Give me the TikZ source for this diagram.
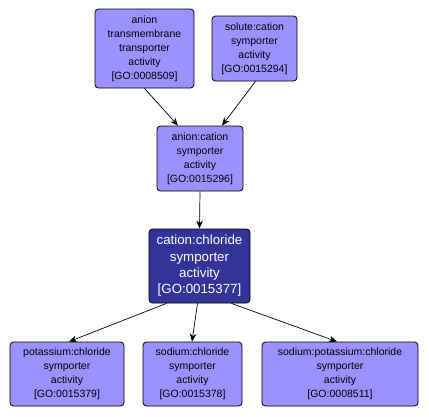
\documentclass[tikz,border=0pt]{standalone}
\usepackage{fontspec}
\setmainfont{Liberation Sans}
\usetikzlibrary{arrows.meta,calc}
\definecolor{lightgo}{RGB}{155,145,255}
\definecolor{darkgo}{RGB}{51,51,153}
\tikzset{
  gobox/.style={draw=black, line width=0.8pt, rounded corners=3.5pt, fill=lightgo, align=center, inner sep=0pt, font=\fontsize{10.5}{14}\selectfont, text=black},
  gomain/.style={gobox, fill=darkgo, text=white, font=\fontsize{13.3}{16.3}\selectfont},
  goarrow/.style={draw=black, line width=0.7pt, -{Stealth[length=8pt,width=6.5pt]}}
}
\begin{document}
\begin{tikzpicture}[x=1pt,y=-1pt]
\useasboundingbox (0,0) rectangle (429,416);
\node[gobox, minimum width=99pt, minimum height=79pt] (A) at (144.5,48.5) {anion\\transmembrane\\transporter\\activity\\{[GO:0008509]}};
\node[gobox, minimum width=85pt, minimum height=65pt] (S) at (254.5,48.5) {solute:cation\\symporter\\activity\\{[GO:0015294]}};
\node[gobox, minimum width=86pt, minimum height=65pt] (AC) at (200,158.5) {anion:cation\\symporter\\activity\\{[GO:0015296]}};
\node[gomain, minimum width=101pt, minimum height=74pt] (CC) at (199.5,266) {cation:chloride\\symporter\\activity\\{[GO:0015377]}};
\node[gobox, minimum width=114pt, minimum height=64pt] (P) at (67,374) {potassium:chloride\\symporter\\activity\\{[GO:0015379]}};
\node[gobox, minimum width=99pt, minimum height=64pt] (SC) at (192.5,374) {sodium:chloride\\symporter\\activity\\{[GO:0015378]}};
\node[gobox, minimum width=156pt, minimum height=64pt] (SPC) at (340,374) {sodium:potassium:chloride\\symporter\\activity\\{[GO:0008511]}};
\draw[goarrow] (A.south) -- ($(AC.north)+(-22,0)$);
\draw[goarrow] ($(S.south)+(1,0)$) -- ($(AC.north)+(22,0)$);
\draw[goarrow] (AC.south) -- (CC.north);
\draw[goarrow] ($(CC.south)+(-33,0)$) -- ($(P.north)+(2,0)$);
\draw[goarrow] ($(CC.south)+(-2,0)$) -- ($(SC.north)+(-0.5,0)$);
\draw[goarrow] ($(CC.south)+(32,0)$) -- ($(SPC.north)+(-3,0)$);
\end{tikzpicture}
\end{document}
